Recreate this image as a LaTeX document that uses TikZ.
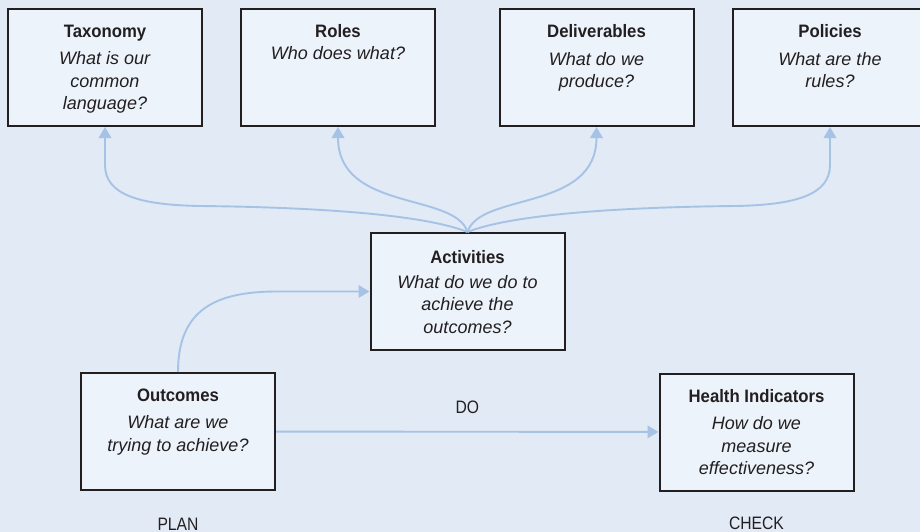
\documentclass[tikz,border=0pt]{standalone}
\usepackage{fontspec}
\setmainfont{Liberation Sans}[
  UprightFeatures={FakeStretch=0.87},
  BoldFeatures={FakeStretch=0.93}]
\usetikzlibrary{positioning, arrows.meta}

\definecolor{bgblue}{HTML}{E2EAF6}
\definecolor{boxblue}{HTML}{ECF3FB}
\definecolor{linkblue}{HTML}{A6C3E6}
\definecolor{inkdark}{HTML}{231F20}

\tikzset{
  stage/.style={draw=inkdark, line width=2pt, fill=boxblue,
    minimum width=194pt, minimum height=117pt, inner sep=0pt},
  stagetext/.style={align=center, inner sep=0pt, text=inkdark,
    font=\fontsize{18}{22.5}\selectfont},
  link/.style={draw=linkblue, line width=1.9pt,
    -{Triangle[width=12.5pt, length=11pt]}},
  phase/.style={inner sep=0pt, text=inkdark, font=\fontsize{18}{22}\selectfont},
}

\begin{document}
\begin{tikzpicture}[x=1pt, y=-1pt]
    % 1. Background and page size
    \fill[bgblue] (0,0) rectangle (920,532);
    \useasboundingbox (0,0) rectangle (920,532);

    % 2. The boxes
    \node[stage] (tax)    at (105,67.5)   {};
    \node[stage] (roles)  at (338,67.5)   {};
    \node[stage] (deliv)  at (596.5,67.5) {};
    \node[stage] (pol)    at (830,67.5)   {};
    \node[stage] (act)    at (467.5,291.5) {};
    \node[stage] (out)    at (178,431.5)  {};
    \node[stage] (health) at (756.5,432)  {};

    % 3. Texts in the boxes
    \node[stagetext, below=16.6pt of tax.north] (tax-t)
        {\textbf{Taxonomy}\\[5pt] \textit{What is our}\\ \textit{common}\\ \textit{language?}};
    \node[stagetext, below=16.6pt of roles.north] (roles-t)
        {\textbf{Roles}\\[-0.5pt] \textit{Who does what?}};
    \node[stagetext, below=16.6pt of deliv.north] (deliv-t)
        {\textbf{Deliverables}\\[5pt] \textit{What do we}\\ \textit{produce?}};
    \node[stagetext, below=16.6pt of pol.north] (pol-t)
        {\textbf{Policies}\\[5pt] \textit{What are the}\\ \textit{rules?}};
    \node[stagetext, below=18pt of act.north] (act-t)
        {\textbf{Activities}\\[2.5pt] \textit{What do we do to}\\ \textit{achieve the}\\ \textit{outcomes?}};
    \node[stagetext, below=16.6pt of out.north] (out-t)
        {\textbf{Outcomes}\\[5pt] \textit{What are we}\\ \textit{trying to achieve?}};
    \node[stagetext, below=16.6pt of health.north] (health-t)
        {\textbf{Health Indicators}\\[5pt] \textit{How do we}\\ \textit{measure}\\ \textit{effectiveness?}};

    % 4. Links from Activities up to the four top boxes
    \draw[link] (act.north) .. controls (420,213) and (300,207) .. (200,206)
        .. controls (140,205) and (105,195) .. (105,165) -- (tax.south);
    \draw[link] (act.north) .. controls (455,192) and (338,212) .. (roles.south);
    \draw[link] (act.north) .. controls (480,192) and (596.5,212) .. (deliv.south);
    \draw[link] (act.north) .. controls (515,213) and (635,207) .. (735,206)
        .. controls (795,205) and (830,195) .. (830,165) -- (pol.south);

    % 5. Outcomes to Activities, Outcomes to Health Indicators
    \draw[link] (out.north) .. controls (178,310) and (215,291.5) .. (277,291.5) -- (act.west);
    \draw[link] (out) -- node[phase, above=17pt] (do) {DO} (health);

    % 6. Phase labels under the bottom boxes
    \node[phase, anchor=base] (plan)  at ([yshift=-39pt]out.south)    {PLAN};
    \node[phase, anchor=base] (check) at ([yshift=-38pt]health.south) {CHECK};
\end{tikzpicture}
\end{document}
